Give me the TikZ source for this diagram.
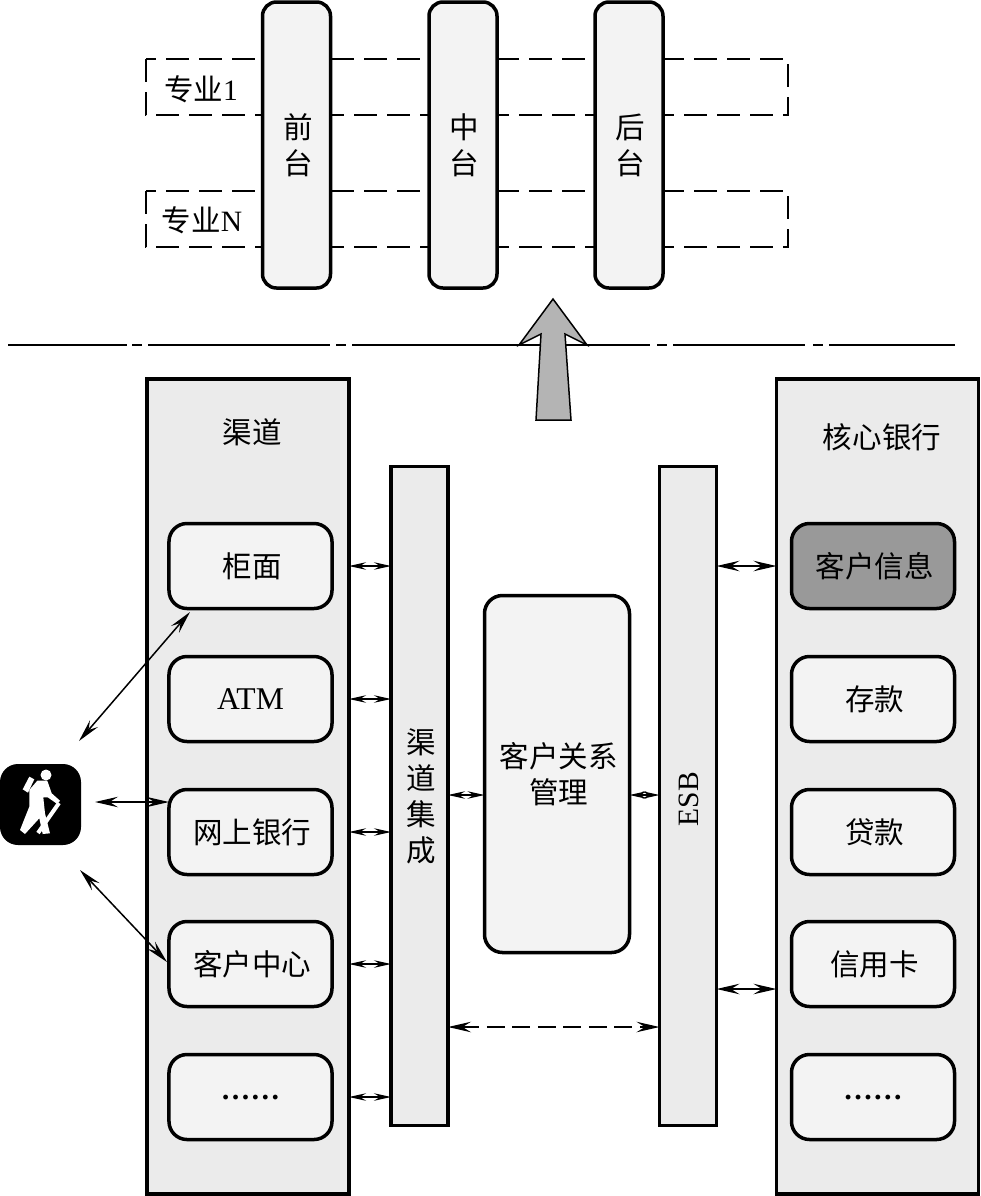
\documentclass[tikz,border=0pt]{standalone}
\usepackage{fontspec}
\setmainfont{Liberation Serif}
\newfontfamily\cjk{Noto Sans CJK SC}
\usetikzlibrary{arrows.meta}
\definecolor{panelgray}{HTML}{EBEBEB}
\definecolor{itemgray}{HTML}{F3F3F3}
\definecolor{darkgray}{HTML}{999999}
\definecolor{bigarrow}{HTML}{B4B4B4}
\newcommand{\dotrow}{\raisebox{-1mm}{\rmfamily\bfseries ……}}
\begin{document}
\begin{tikzpicture}[x=0.2mm,y=-0.2mm,
    every node/.style={font=\fontsize{16.8}{20.5}\selectfont\cjk,align=center,inner sep=0pt,outer sep=0pt},
    panel/.style={draw=black,line width=0.7mm,fill=panelgray,minimum width=40.4mm,minimum height=163mm},
    bus/.style={draw=black,line width=0.7mm,fill=panelgray,minimum width=11.4mm,minimum height=131.8mm},
    item/.style={draw=black,line width=0.7mm,fill=itemgray,rounded corners=3.6mm,minimum width=32.6mm,minimum height=17mm},
    tall/.style={draw=black,line width=0.7mm,fill=itemgray,rounded corners=2.8mm,minimum width=13.6mm,minimum height=57.2mm},
    nudge/.style={execute at begin node={\hspace*{0.7mm}}},
    major/.style={draw=black,line width=0.3mm,dash pattern=on 4.6mm off 2mm},
    link/.style={line width=0.3mm,{Stealth[length=4.6mm,width=2.1mm,inset=1.7mm]}-{Stealth[length=4.6mm,width=2.1mm,inset=1.7mm]}},
    slink/.style={line width=0.25mm,{Stealth[length=3.4mm,width=1.5mm,inset=1.2mm]}-{Stealth[length=3.4mm,width=1.5mm,inset=1.2mm]}}]
    \useasboundingbox (0,0) rectangle (981,1196);

    % specialty bands behind the three columns
    \draw[major] (146,59) rectangle (788,115);
    \draw[major] (146,191) rectangle (788,247);

    \node[tall] (front) at (296.5,145) {\hspace*{0.7mm}前\\\hspace*{0.7mm}台};
    \node[tall] (middle) at (463,145) {\hspace*{0.7mm}中\\\hspace*{0.7mm}台};
    \node[tall] (back) at (629,145) {\hspace*{0.7mm}后\\\hspace*{0.7mm}台};
    \node (major1) at (201,89) {专业{\rmfamily 1}};
    \node (majorn) at (202,220) {专业{\rmfamily N}};

    % divider and the arrow across it
    \draw[line width=0.3mm,dash pattern=on 23.8mm off 1mm on 2mm off 1.2mm on 36.4mm off 1.2mm on 2mm off 1.2mm on 59.6mm off 1.4mm on 2mm off 1.2mm on 26.4mm off 1.6mm on 2mm off 1.2mm on 25.4mm] (8,345) -- (955,345);
    \draw[line width=0.3mm,fill=bigarrow] (553,299) -- (587,345) -- (565,334) -- (571,420) -- (536,420) -- (541,334) -- (519,345) -- cycle;

    \node[panel] (channel) at (248,786.5) {};
    \node[panel] (core) at (877.5,786.5) {};
    \node (channeltitle) at (252,432) {渠道};
    \node (coretitle) at (882,437) {核心银行};

    \node[item,nudge] (counter) at (250.5,566) {柜面};
    \node[item] (atm) at (250.5,699) {\fontsize{18}{20.5}\selectfont\rmfamily ATM};
    \node[item,nudge] (online) at (250.5,832) {网上银行};
    \node[item,nudge] (center) at (250.5,964) {客户中心};
    \node[item] (more1) at (250.5,1097) {\dotrow};

    \node[item,fill=darkgray,nudge] (info) at (873,566) {客户信息};
    \node[item,nudge] (deposit) at (873,699) {存款};
    \node[item,nudge] (loan) at (873,832) {贷款};
    \node[item,nudge] (card) at (873,964) {信用卡};
    \node[item] (more2) at (873,1097) {\dotrow};

    \node[bus] (integ) at (419.5,796) {\hspace*{0.7mm}渠\\\hspace*{0.7mm}道\\\hspace*{0.7mm}集\\\hspace*{0.7mm}成};
    \node[bus] (esb) at (688,796) {};
    \node[rotate=90,font=\fontsize{16.8}{20.5}\selectfont\rmfamily] (esblabel) at (689,799) {ESB};
    \node[item,minimum width=29mm,minimum height=71.4mm] (crm) at (557,774) {\hspace*{0.7mm}客户关系\\\hspace*{0.7mm}管理};

    \draw[slink] (channel.east |- counter) -- (integ.west |- counter);
    \draw[slink] (channel.east |- atm) -- (integ.west |- atm);
    \draw[slink] (channel.east |- online) -- (integ.west |- online);
    \draw[slink] (channel.east |- center) -- (integ.west |- center);
    \draw[slink] (channel.east |- more1) -- (integ.west |- more1);

    \coordinate (crmy) at (557,795);
    \draw[slink] (integ.east |- crmy) -- (crm.west |- crmy);
    \draw[slink] (crm.east |- crmy) -- (esb.west |- crmy);

    \coordinate (cardy) at (717,989);
    \coordinate (lowy) at (557,1027);
    \draw[link] (esb.east |- info) -- (core.west |- info);
    \draw[link] (esb.east |- cardy) -- (core.west |- cardy);
    \draw[link,dash pattern=on 3.6mm off 1.5mm] (integ.east |- lowy) -- (esb.west |- lowy);

    % the person and the three ways in
    \node[fill=black,rounded corners=3.6mm,minimum width=16.2mm,minimum height=16.2mm] (hiker) at (40.5,804.5) {};
    \fill[white] (46,775) circle (5.5);
    \fill[white] (22.7,789.3) -- (29.3,776.7) -- (34.3,779.3) -- (28,792.7) -- cycle;
    \fill[white] (37.3,780.7) -- (47.3,780.7) -- (51.7,793.3) -- (60,800.7) -- (57.3,804) -- (47.7,797.3) -- (43.3,797.3) -- (45,813.3) -- (50,833.3) -- (42.7,834) -- (39.3,818.3) -- (25,834) -- (20,830) -- (29.3,806.7) -- (29.3,790) -- cycle;
    \draw[white,line width=0.8mm] (59,803) -- (38,833);

    \coordinate (handa) at (79,741);
    \coordinate (handb) at (95,802);
    \coordinate (handc) at (80,870);
    \coordinate (enda) at (190,612);
    \coordinate (endc) at (167,962);
    \draw[link] (handa) -- (enda);
    \draw[link] (handb) -- (online.west |- handb);
    \draw[link] (handc) -- (endc);
\end{tikzpicture}
\end{document}
